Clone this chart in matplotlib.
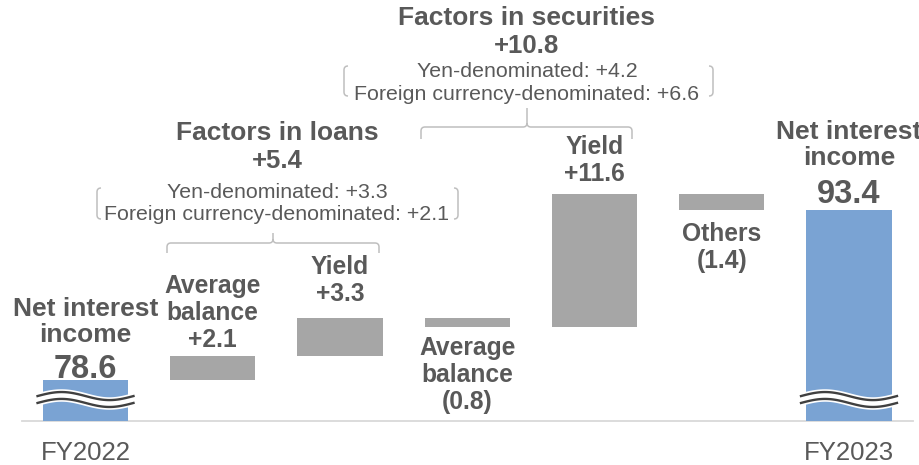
import numpy as np
import matplotlib.pyplot as plt
from matplotlib.path import Path
from matplotlib.patches import PathPatch

plt.rcParams['font.family'] = ['Liberation Sans', 'DejaVu Sans']

# net interest income bridge, FY2022 -> FY2023
start_value = 78.6
end_value = 93.4
year_labels = ['FY2022', 'FY2023']
total_name = 'Net interest\nincome'
step_names = ['Average\nbalance', 'Yield', 'Average\nbalance', 'Yield', 'Others']
step_values = [2.1, 3.3, -0.8, 11.6, -1.4]

split_names = ['Yen-denominated', 'Foreign currency-denominated']
loans_title = 'Factors in loans'
loans_total = 5.4
loans_split = [3.3, 2.1]
securities_title = 'Factors in securities'
securities_total = 10.8
securities_split = [4.2, 6.6]

BLUE = '#7AA3D3'
GREY = '#A6A6A6'
TEXT = '#595959'
LINE = '#BFBFBF'
BASE = 75.0
W, H = 920, 465


def fmt(v):
    return f'+{v:.1f}' if v >= 0 else f'({abs(v):.1f})'


fig = plt.figure(figsize=(W / 100, H / 100), dpi=100)
ax = fig.add_axes([0, 0, 1, 1])
ax.set_xlim(-0.672, 6.558)
ax.set_ylim(71.2, 111.67)
ax.axis('off')

n = len(step_values)
levels = start_value + np.concatenate([[0], np.cumsum(step_values)])
width = 0.67

# baseline
ax.plot([-0.5, n + 1.5], [BASE, BASE], color='#D9D9D9', lw=1.3, zorder=1)

# total bars and step bars
ax.bar([0, n + 1], [start_value - BASE, end_value - BASE], bottom=BASE,
       width=width, color=BLUE, zorder=2)
step_x = np.arange(1, n + 1)
ax.bar(step_x, np.abs(step_values), bottom=np.minimum(levels[:-1], levels[1:]),
       width=width, color=GREY, zorder=2)

# axis break marks on the total bars
t = np.linspace(0, 1, 120)
for xi in [0, n + 1]:
    xs = xi - 0.377 + 0.754 * t
    ys = 76.9 + 0.35 * np.sin(2 * np.pi * t)
    ax.plot(xs, ys, color='white', lw=9, solid_capstyle='butt', zorder=3)
    ax.plot(xs, ys + 0.3, color='#404040', lw=1.7, zorder=4)
    ax.plot(xs, ys - 0.3, color='#404040', lw=1.7, zorder=4)

bold = dict(ha='center', color=TEXT, fontweight='bold',
            textcoords='offset points', annotation_clip=False)

# totals
for xi, v, yr, name_off, val_off in zip([0, n + 1], [start_value, end_value],
                                        year_labels, [27, 32], [1.5, 5]):
    ax.annotate(f'{v:.1f}', (xi, v), xytext=(0, val_off), va='baseline',
                fontsize=23.5, **bold)
    ax.annotate(total_name, (xi, v), xytext=(0, name_off), va='baseline',
                fontsize=19, linespacing=1.12, **bold)
    ax.annotate(yr, (xi, BASE), xytext=(0, -28), textcoords='offset points',
                ha='center', va='baseline', fontsize=18.5, color=TEXT)

# step labels
gaps = [6.5, 12, 6.5, 9.5, 8.5]
for xi, name, v, lo, hi, gap in zip(step_x, step_names, step_values,
                                    levels[:-1], levels[1:], gaps):
    label = f'{name}\n{fmt(v)}'
    if v >= 0:
        ax.annotate(label, (xi, max(lo, hi)), xytext=(0, gap), va='baseline',
                    fontsize=17.7, linespacing=1.15, **bold)
    else:
        ax.annotate(label, (xi, min(lo, hi)), xytext=(0, -gap), va='top',
                    fontsize=17.7, linespacing=1.15, **bold)


def px(x, y):
    return x / W, 1 - y / H


def paren(x, y0, y1, side):
    # thin rounded bracket, side=+1 opens right, -1 opens left
    a, r = 4 * side, 4
    verts = [px(x + a, y0), px(x, y0), px(x, y0 + r), px(x, y1 - r),
             px(x, y1), px(x + a, y1)]
    codes = [Path.MOVETO, Path.CURVE3, Path.CURVE3, Path.LINETO,
             Path.CURVE3, Path.CURVE3]
    fig.add_artist(PathPatch(Path(verts, codes), fill=False, ec=LINE, lw=1.1,
                             transform=fig.transFigure))


def brace(x0, x1, xc, yh, yend, ytip):
    r = 4
    verts = [px(x0, yend), px(x0, yh + r), px(x0, yh), px(x0 + r, yh),
             px(xc - r, yh), px(xc, yh), px(xc, yh - r), px(xc, ytip),
             px(xc, yh - r), px(xc, yh), px(xc + r, yh),
             px(x1 - r, yh), px(x1, yh), px(x1, yh + r), px(x1, yend)]
    codes = [Path.MOVETO, Path.LINETO, Path.CURVE3, Path.CURVE3,
             Path.LINETO, Path.CURVE3, Path.CURVE3, Path.LINETO,
             Path.MOVETO, Path.CURVE3, Path.CURVE3,
             Path.LINETO, Path.CURVE3, Path.CURVE3, Path.LINETO]
    fig.add_artist(PathPatch(Path(verts, codes), fill=False, ec=LINE, lw=1.1,
                             transform=fig.transFigure))


def group(cx, title, total, split, ys, pl, pr, py):
    fig.text(*px(cx, ys[0]), title, ha='center', va='baseline',
             fontsize=19, fontweight='bold', color=TEXT)
    fig.text(*px(cx, ys[1]), fmt(total), ha='center', va='baseline',
             fontsize=18.5, fontweight='bold', color=TEXT)
    for name, v, y in zip(split_names, split, ys[2:]):
        fig.text(*px(cx, y), f'{name}: {fmt(v)}', ha='center', va='baseline',
                 fontsize=15.4, color=TEXT)
    paren(pl, py[0], py[1], 1)
    paren(pr, py[0], py[1], -1)


group(277, loans_title, loans_total, loans_split, [140, 168, 198, 220],
      97, 458, (188, 219))
brace(167, 379, 273, 243, 253, 233)

group(527, securities_title, securities_total, securities_split,
      [25, 53, 77, 100], 344, 713, (66, 96))
brace(421, 632, 527, 127, 139, 108)

fig.savefig('out.png', dpi=100)
